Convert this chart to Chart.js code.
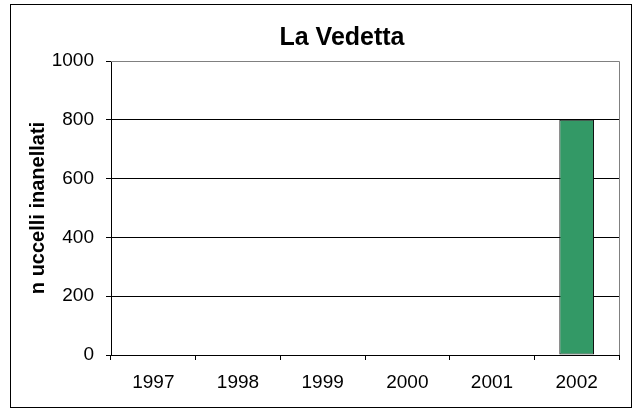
<!DOCTYPE html>
<html>
<head>
<meta charset="utf-8">
<script src="https://cdn.jsdelivr.net/npm/chart.js@4"></script>
<style>
  html, body { margin: 0; padding: 0; background: #fff; overflow: hidden; }
  #wrap { position: relative; width: 639px; height: 408px; overflow: hidden; }
  #frame { position: absolute; left: 10px; top: 4px; width: 622px; height: 404px; border: 1px solid #000; box-sizing: border-box; pointer-events: none; }
</style>
</head>
<body>
<div id="wrap">
  <canvas id="chart" width="700" height="408"></canvas>
  <div id="frame"></div>
</div>
<script>
const years = ['1997', '1998', '1999', '2000', '2001', '2002'];
const birds = [0, 0, 0, 0, 0, 800];
const yTicks = [0, 200, 400, 600, 800, 1000];

const font = 'Liberation Sans, Arial, sans-serif';

// gray border on top and right of the plot area
const plotBorder = {
  id: 'plotBorder',
  afterDatasetsDraw(chart) {
    const { ctx, chartArea: a } = chart;
    ctx.save();
    ctx.strokeStyle = '#808080';
    ctx.lineWidth = 1;
    ctx.beginPath();
    ctx.moveTo(a.left, a.top + 0.5);
    ctx.lineTo(a.right + 0.5, a.top + 0.5);
    ctx.lineTo(a.right + 0.5, a.bottom);
    ctx.stroke();
    ctx.restore();
  }
};

new Chart(document.getElementById('chart'), {
  type: 'bar',
  data: {
    labels: years,
    datasets: [{
      data: birds,
      backgroundColor: '#339966',
      borderColor: '#111111',
      borderWidth: 1,
      borderSkipped: false,
      categoryPercentage: 0.41,
      barPercentage: 1,
    }],
  },
  options: {
    responsive: false,
    animation: false,
    layout: { padding: { left: 11, right: 27, top: 0, bottom: 0 } },
    plugins: {
      legend: { display: false },
      tooltip: { enabled: false },
      title: {
        display: true,
        text: 'La Vedetta',
        color: '#000',
        font: { family: font, size: 25, weight: 'bold' },
        padding: { top: 23, bottom: 8 },
      },
    },
    scales: {
      x: {
        grid: {
          offset: true,
          drawOnChartArea: false,
          drawTicks: true,
          tickLength: 5,
          color: '#000',
        },
        border: { color: '#000' },
        ticks: { color: '#000', font: { family: font, size: 19 }, padding: 11 },
        afterFit(scale) { scale.height = 53; },
      },
      y: {
        min: 0,
        max: 1000,
        afterBuildTicks(scale) { scale.ticks = yTicks.map(v => ({ value: v })); },
        grid: {
          color: ctx => (ctx.tick && ctx.tick.value === 1000 ? '#808080' : '#000'),
          tickColor: '#000',
          tickLength: 5,
        },
        border: { color: '#000' },
        ticks: {
          color: '#000',
          font: { family: font, size: 19 },
          padding: 12,
          callback: v => String(v),
        },
        title: {
          display: true,
          text: 'n uccelli inanellati',
          color: '#000',
          font: { family: font, size: 20, weight: 'bold' },
          padding: { top: 15, bottom: 0 },
        },
        afterFit(scale) { scale.width = 100; },
      },
      // empty right-hand margin so the title sits where it does in the original
      spacer: {
        type: 'linear',
        axis: 'y',
        position: 'right',
        grid: { display: false, drawTicks: false },
        border: { display: false },
        ticks: { display: false },
        afterFit(scale) { scale.width = 54; },
      },
    },
  },
  plugins: [plotBorder],
});
</script>
</body>
</html>
